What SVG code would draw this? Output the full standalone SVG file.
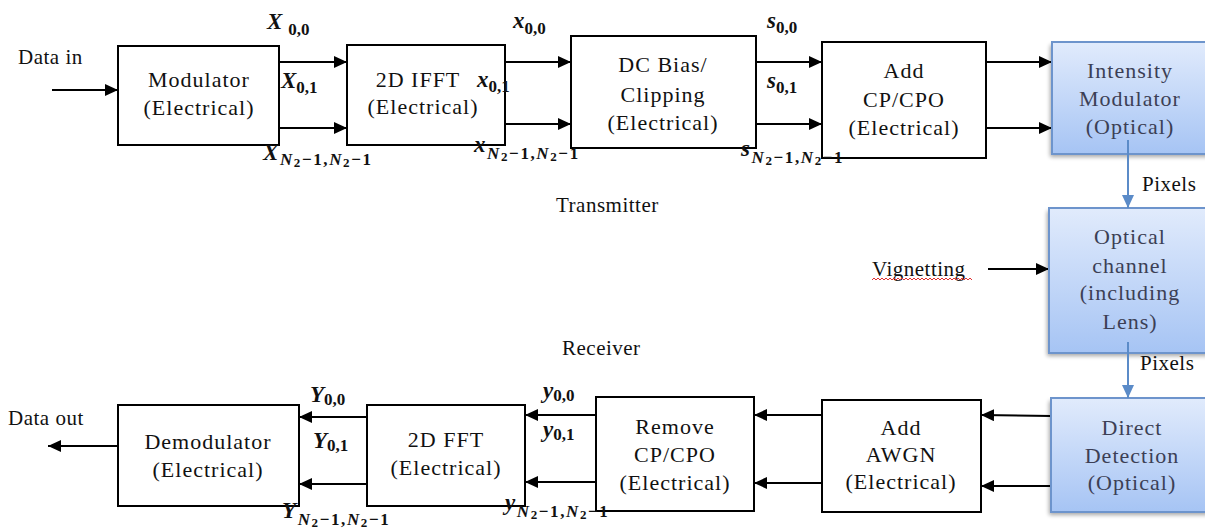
<svg xmlns="http://www.w3.org/2000/svg" width="1205" height="530" viewBox="0 0 1205 530">
<style>
.box{fill:#fff;stroke:#000;stroke-width:2}
.obox{fill:url(#blueGrad);stroke:#6d94cc;stroke-width:2}
.t{font-family:"Liberation Serif","Times New Roman",serif;font-size:22px;letter-spacing:1px;fill:#111;text-anchor:middle}
.ot{fill:#3c3f55}
.lbl{font-family:"Liberation Serif","Times New Roman",serif;font-size:21px;letter-spacing:0.5px;fill:#111}
.m{font-family:"Liberation Serif","Times New Roman",serif;font-weight:bold;fill:#111}
.mv{font-size:23px;font-style:italic}
.ms{font-size:17px}
.mi{font-size:17px;font-style:italic}
.mss{font-size:13px}
.lg{letter-spacing:1.6px}
.c{stroke:#000;stroke-width:2;fill:none;marker-end:url(#ah)}
.cb{stroke:#5b8bc8;stroke-width:2;fill:none;marker-end:url(#ahb)}
</style>
<defs>
<linearGradient id="blueGrad" x1="0" y1="0" x2="0" y2="1">
<stop offset="0" stop-color="#e1ebfc"/>
<stop offset="1" stop-color="#a6c4f4"/>
</linearGradient>
<filter id="sh" x="-10%" y="-10%" width="130%" height="130%">
<feGaussianBlur stdDeviation="2"/>
</filter>
<marker id="ah" markerUnits="userSpaceOnUse" markerWidth="14" markerHeight="12" refX="13" refY="6" orient="auto">
<path d="M0,0 L13,6 L0,12 z" fill="#000"/>
</marker>
<marker id="ahb" markerUnits="userSpaceOnUse" markerWidth="14" markerHeight="12" refX="13" refY="6" orient="auto">
<path d="M0,0 L13,6 L0,12 z" fill="#5b8bc8"/>
</marker>
</defs>
<rect width="1205" height="530" fill="#fff"/>

<g id="connectors">
<line class="c" x1="52" y1="90" x2="118" y2="90"/>
<line class="c" x1="279" y1="62" x2="347" y2="62"/>
<line class="c" x1="279" y1="128" x2="347" y2="128"/>
<line class="c" x1="505" y1="62" x2="571" y2="62"/>
<line class="c" x1="505" y1="124" x2="571" y2="124"/>
<line class="c" x1="756" y1="62" x2="822" y2="62"/>
<line class="c" x1="756" y1="124" x2="822" y2="124"/>
<line class="c" x1="986" y1="62" x2="1052" y2="62"/>
<line class="c" x1="986" y1="128" x2="1052" y2="128"/>
<line class="c" x1="988" y1="269" x2="1049" y2="269"/>
<line class="c" x1="1051" y1="416" x2="981" y2="415"/>
<line class="c" x1="1051" y1="486" x2="981" y2="486"/>
<line class="c" x1="822" y1="415" x2="754" y2="415"/>
<line class="c" x1="822" y1="483" x2="754" y2="483"/>
<line class="c" x1="596" y1="415" x2="525" y2="415"/>
<line class="c" x1="596" y1="482" x2="525" y2="482"/>
<line class="c" x1="367" y1="417" x2="299" y2="417"/>
<line class="c" x1="367" y1="484" x2="299" y2="484"/>
<line class="c" x1="118" y1="446" x2="48" y2="446"/>
</g>

<g id="modulator">
<rect class="box" x="118" y="46" width="161" height="99"/>
<text class="t" x="199" y="87">Modulator</text>
<text class="t" x="199" y="115">(Electrical)</text>
</g>
<g id="ifft">
<rect class="box" x="347" y="45" width="158" height="100"/>
<text class="t" x="418" y="87">2D IFFT</text>
<text class="t" x="423" y="114">(Electrical)</text>
</g>
<g id="dcbias">
<rect class="box" x="571" y="36" width="185" height="112"/>
<text class="t" x="663" y="72">DC Bias/</text>
<text class="t" x="663" y="102">Clipping</text>
<text class="t" x="663" y="130">(Electrical)</text>
</g>
<g id="addcp">
<rect class="box" x="822" y="42" width="164" height="116"/>
<text class="t" x="904" y="78">Add</text>
<text class="t" x="904" y="107">CP/CPO</text>
<text class="t" x="904" y="135">(Electrical)</text>
</g>
<g id="intensity">
<rect x="1050" y="45" width="170" height="112" fill="#000" opacity="0.35" filter="url(#sh)"/>
<rect class="obox" x="1052" y="42" width="170" height="112"/>
<text class="t ot" x="1130" y="78">Intensity</text>
<text class="t ot" x="1130" y="106">Modulator</text>
<text class="t ot" x="1130" y="134">(Optical)</text>
</g>
<g id="optical-channel">
<rect x="1047" y="211" width="170" height="145" fill="#000" opacity="0.35" filter="url(#sh)"/>
<rect class="obox" x="1049" y="208" width="170" height="145"/>
<text class="t ot" x="1130" y="244">Optical</text>
<text class="t ot" x="1130" y="273">channel</text>
<text class="t ot" x="1130" y="300">(including</text>
<text class="t ot" x="1130" y="329">Lens)</text>
</g>
<g id="direct-detection">
<rect x="1049" y="401" width="170" height="114" fill="#000" opacity="0.35" filter="url(#sh)"/>
<rect class="obox" x="1051" y="398" width="170" height="114"/>
<text class="t ot" x="1132" y="435">Direct</text>
<text class="t ot" x="1132" y="463">Detection</text>
<text class="t ot" x="1132" y="490">(Optical)</text>
</g>
<g id="awgn">
<rect class="box" x="822" y="400" width="159" height="112"/>
<text class="t" x="901" y="435">Add</text>
<text class="t" x="901" y="462">AWGN</text>
<text class="t" x="901" y="489">(Electrical)</text>
</g>
<g id="removecp">
<rect class="box" x="596" y="397" width="158" height="114"/>
<text class="t" x="675" y="434">Remove</text>
<text class="t" x="675" y="462">CP/CPO</text>
<text class="t" x="675" y="490">(Electrical)</text>
</g>
<g id="fft">
<rect class="box" x="367" y="405" width="158" height="101"/>
<text class="t" x="446" y="447">2D FFT</text>
<text class="t" x="446" y="475">(Electrical)</text>
</g>
<g id="demodulator">
<rect class="box" x="118" y="405" width="181" height="101"/>
<text class="t" x="208" y="449">Demodulator</text>
<text class="t" x="208" y="477">(Electrical)</text>
</g>

<g id="blue-connectors">
<line class="cb" x1="1128" y1="140" x2="1128" y2="208"/>
<line class="cb" x1="1128" y1="342" x2="1128" y2="398"/>
</g>

<g id="labels">
<text class="lbl" x="18" y="64">Data in</text>
<text class="lbl" x="8" y="425">Data out</text>
<text class="lbl" x="556" y="212">Transmitter</text>
<text class="lbl" x="562" y="355">Receiver</text>
<text class="lbl" x="1142" y="191">Pixels</text>
<text class="lbl" x="1140" y="370">Pixels</text>
<text class="lbl" x="872" y="276">Vignetting</text>
<path d="M872,280 l2,-2 l2,2 l2,-2 l2,2 l2,-2 l2,2 l2,-2 l2,2 l2,-2 l2,2 l2,-2 l2,2 l2,-2 l2,2 l2,-2 l2,2 l2,-2 l2,2 l2,-2 l2,2 l2,-2 l2,2 l2,-2 l2,2 l2,-2 l2,2 l2,-2 l2,2 l2,-2 l2,2 l2,-2 l2,2 l2,-2 l2,2 l2,-2 l2,2 l2,-2 l2,2 l2,-2 l2,2 l2,-2 l2,2 l2,-2 l2,2 l2,-2 l2,2 l2,-2 l2,2 l2,-2 l2,2" fill="none" stroke="#e03030" stroke-width="1"/>
</g>

<g id="math-labels">
<text class="m" x="267" y="29"><tspan class="mv">X</tspan><tspan class="ms" dx="6" dy="6">0,0</tspan></text>
<text class="m" x="281" y="88"><tspan class="mv">X</tspan><tspan class="ms" dy="5">0,1</tspan></text>
<text class="m lg" x="263" y="160"><tspan class="mv">X</tspan><tspan class="mi" dy="5">N</tspan><tspan class="mss" dy="2">2</tspan><tspan class="ms" dy="-2">−1,</tspan><tspan class="mi">N</tspan><tspan class="mss" dy="2">2</tspan><tspan class="ms" dy="-2">−1</tspan></text>

<text class="m" x="513" y="28"><tspan class="mv">x</tspan><tspan class="ms" dy="6">0,0</tspan></text>
<text class="m" x="477" y="87"><tspan class="mv">x</tspan><tspan class="ms" dy="5">0,1</tspan></text>
<text class="m lg" x="474" y="152"><tspan class="mv">x</tspan><tspan class="mi" dy="7">N</tspan><tspan class="mss" dy="2">2</tspan><tspan class="ms" dy="-2">−1,</tspan><tspan class="mi">N</tspan><tspan class="mss" dy="2">2</tspan><tspan class="ms" dy="-2">−1</tspan></text>

<text class="m" x="767" y="28"><tspan class="mv">s</tspan><tspan class="ms" dy="5">0,0</tspan></text>
<text class="m" x="767" y="88"><tspan class="mv">s</tspan><tspan class="ms" dy="5">0,1</tspan></text>
<text class="m lg" x="741" y="156"><tspan class="mv">s</tspan><tspan class="mi" dy="7">N</tspan><tspan class="mss" dy="2">2</tspan><tspan class="ms" dy="-2">−1,</tspan><tspan class="mi">N</tspan><tspan class="mss" dy="2">2</tspan><tspan class="ms" dy="-2">−1</tspan></text>

<text class="m" x="543" y="398"><tspan class="mv">y</tspan><tspan class="ms" dy="3">0,0</tspan></text>
<text class="m" x="543" y="437"><tspan class="mv">y</tspan><tspan class="ms" dy="3">0,1</tspan></text>
<text class="m lg" x="505" y="510"><tspan class="mv">y</tspan><tspan class="mi" dy="7">N</tspan><tspan class="mss" dy="2">2</tspan><tspan class="ms" dy="-2">−1,</tspan><tspan class="mi">N</tspan><tspan class="mss" dy="2">2</tspan><tspan class="ms" dy="-2">−1</tspan></text>

<text class="m" x="310" y="402"><tspan class="mv">Y</tspan><tspan class="ms" dy="3">0,0</tspan></text>
<text class="m" x="313" y="448"><tspan class="mv">Y</tspan><tspan class="ms" dy="3">0,1</tspan></text>
<text class="m lg" x="282" y="518"><tspan class="mv">Y</tspan><tspan class="mi" dy="7">N</tspan><tspan class="mss" dy="2">2</tspan><tspan class="ms" dy="-2">−1,</tspan><tspan class="mi">N</tspan><tspan class="mss" dy="2">2</tspan><tspan class="ms" dy="-2">−1</tspan></text>
</g>
</svg>
